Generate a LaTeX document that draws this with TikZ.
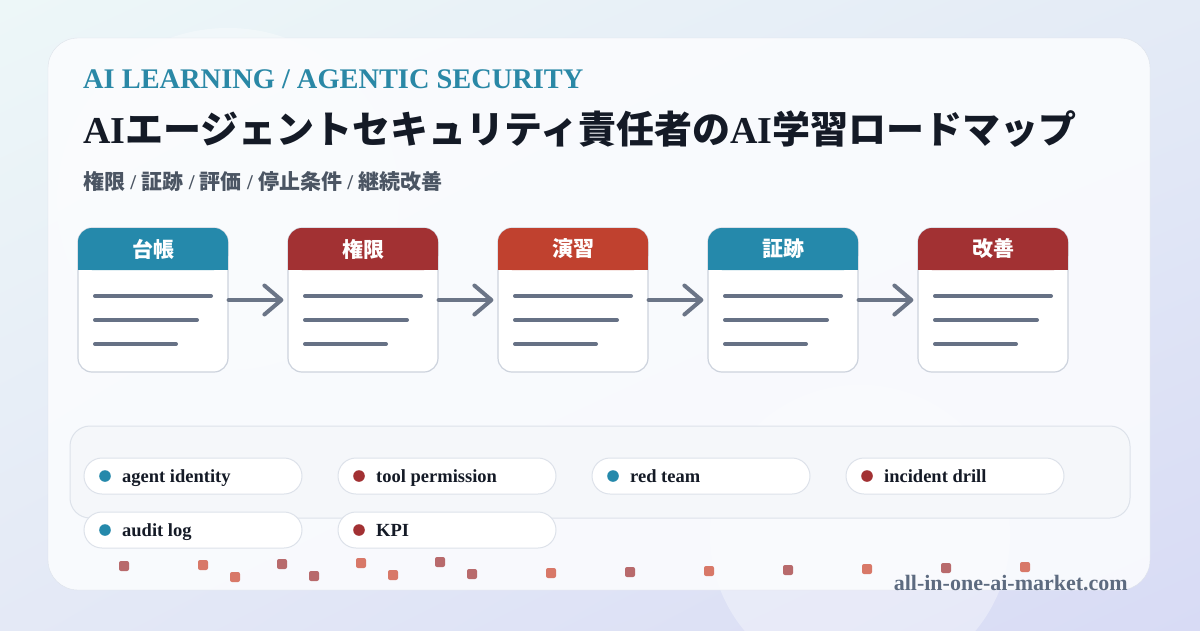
\documentclass[tikz,border=0pt]{standalone}
\usepackage{fontspec}
\setmainfont{Liberation Serif}
\newfontfamily\jp{Noto Sans CJK JP}
\usetikzlibrary{arrows.meta,shadings}
\definecolor{bgA}{HTML}{EDF7F8}
\definecolor{bgB}{HTML}{E4EBF6}
\definecolor{bgC}{HTML}{E4E9F6}
\definecolor{bgD}{HTML}{D8DBF5}
\definecolor{cteal}{HTML}{2589AB}
\definecolor{ckick}{HTML}{2A88A6}
\definecolor{cred}{HTML}{A23133}
\definecolor{corange}{HTML}{C0412F}
\definecolor{ctitle}{HTML}{141A26}
\definecolor{csub}{HTML}{4B5563}
\definecolor{cline}{HTML}{667185}
\definecolor{carrow}{HTML}{6B7587}
\definecolor{cborder}{HTML}{CDD3DD}
\definecolor{cpill}{HTML}{DDE2EA}
\definecolor{cpanel}{HTML}{F5F7FA}
\definecolor{cfoot}{HTML}{5D6B80}
\definecolor{cmauve}{HTML}{B86A6C}
\definecolor{csalmon}{HTML}{D87868}
\definecolor{ccard}{HTML}{FBFCFE}
\begin{document}
\begin{tikzpicture}[x=1pt,y=-1pt,
  card/.style={draw=cpill,fill=ccard,fill opacity=.9,rounded corners=30,minimum width=1102pt,minimum height=552pt,inner sep=0},
  stepcard/.style={draw=cborder,line width=1.2pt,fill=white,rounded corners=14,minimum width=150pt,minimum height=144pt,inner sep=0},
  hdrtext/.style={text=white,font=\jp\bfseries\fontsize{21}{22}\selectfont,inner sep=0},
  txtline/.style={draw=cline,line width=4pt,line cap=round},
  flow/.style={draw=carrow,line width=4pt,line cap=round,shorten >=4pt,-{Straight Barb[length=17pt,width=29pt,round]}},
  panel/.style={draw=cpill,fill=cpanel,line width=1pt,rounded corners=20,minimum width=1060pt,minimum height=92pt,inner sep=0},
  pill/.style={draw=cpill,fill=white,line width=1pt,rounded corners=18,minimum width=218pt,minimum height=36pt,inner sep=0},
  pilltext/.style={text=ctitle,font=\bfseries\fontsize{18.5}{20}\selectfont,inner sep=0,anchor=base west},
  sq/.style={rounded corners=2pt}
]
\useasboundingbox (0,0) rectangle (1200,630);
\shade[upper left=bgA,upper right=bgB,lower left=bgC,lower right=bgD] (0,0) rectangle (1200,630);
\fill[white,opacity=.35] (228,199) circle (171);
\fill[white,opacity=.35] (860,535) circle (150);
\node[card] (card) at (599,314) {};

\node[anchor=base west,inner sep=0,text=ckick,font=\bfseries\fontsize{28.4}{30}\selectfont] (kicker) at (83,88) {AI LEARNING / AGENTIC SECURITY};
\node[anchor=base west,inner sep=0,text=ctitle,font=\bfseries\fontsize{38}{40}\selectfont] (title) at (83,143) {AI{\jp エージェントセキュリティ責任者の}AI{\jp 学習ロードマップ}};
\node[anchor=base west,inner sep=0,text=csub,font=\bfseries\fontsize{21}{22}\selectfont] (sub) at (83,189) {{\jp 権限} / {\jp 証跡} / {\jp 評価} / {\jp 停止条件} / {\jp 継続改善}};

\foreach \i/\x/\lbl/\col in {1/153/台帳/cteal,2/363/権限/cred,3/573/演習/corange,4/783/証跡/cteal,5/993/改善/cred}{
  \node[stepcard] (s\i) at (\x,300) {};
  \fill[\col,rounded corners=14] (\x-75,228) rectangle (\x+75,270);
  \fill[\col] (\x-75,250) rectangle (\x+75,270);
  \node[hdrtext] (h\i) at (\x,249) {\lbl};
  \draw[txtline] (\x-58,296) -- (\x+58,296);
  \draw[txtline] (\x-58,320) -- (\x+44,320);
  \draw[txtline] (\x-58,344) -- (\x+23,344);
}
\foreach \a/\b in {1/2,2/3,3/4,4/5}{
  \draw[flow] (s\a.east) -- (s\b.west);
}

\node[panel] (panel) at (600,472) {};
\foreach \n/\x/\y/\t/\c in {p1/193/476/agent identity/cteal,p2/447/476/tool permission/cred,p3/701/476/red team/cteal,p4/955/476/incident drill/cred,p5/193/530/audit log/cteal,p6/447/530/KPI/cred}{
  \node[pill] (\n) at (\x,\y) {};
  \fill[\c] (\x-88,\y) circle (5.8);
  \node[pilltext] (\n t) at (\x-71,\y+6.5) {\t};
}

\foreach \x/\y/\c in {124/566/cmauve,203/565/csalmon,282/564/cmauve,361/563/csalmon,440/562/cmauve,
  235/577/csalmon,314/576/cmauve,393/575/csalmon,472/574/cmauve,551/573/csalmon,630/572/cmauve,709/571/csalmon,788/570/cmauve,867/569/csalmon,946/568/cmauve,1025/567/csalmon}{
  \fill[\c,sq] (\x-5,\y-5) rectangle (\x+5,\y+5);
}

\node[anchor=base east,inner sep=0,text=cfoot,font=\bfseries\fontsize{22}{23}\selectfont] (url) at (1128,590) {all-in-one-ai-market.com};
\end{tikzpicture}
\end{document}
